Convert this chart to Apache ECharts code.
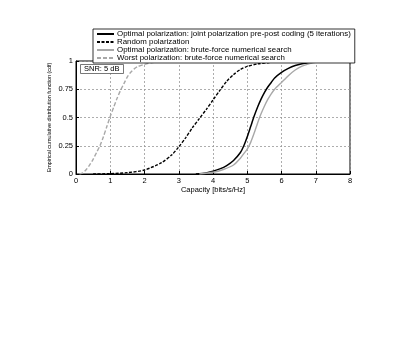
<!DOCTYPE html>
<html>
<head>
<meta charset="utf-8">
<script src="https://cdn.jsdelivr.net/npm/echarts@6/dist/echarts.min.js"></script>
<style>
  html, body { margin: 0; padding: 0; background: #fff; }
  #chart { width: 399px; height: 346px; }
</style>
</head>
<body>
<div id="chart"></div>
<script>
// curves: [capacity, cdf]
var jointOptimal = [[3.5, 0], [3.8, 0.01], [4.0, 0.025], [4.2, 0.045], [4.4, 0.075], [4.6, 0.12], [4.8, 0.19],
  [4.9, 0.25], [5.0, 0.33], [5.1, 0.42], [5.2, 0.51], [5.3, 0.59], [5.4, 0.66], [5.5, 0.72], [5.6, 0.77],
  [5.7, 0.81], [5.8, 0.85], [6.0, 0.9], [6.2, 0.935], [6.4, 0.96], [6.6, 0.975], [6.8, 0.985], [7.0, 0.992],
  [7.3, 0.997], [7.6, 1], [8, 1]]
var randomPol = [[0.5, 0], [1.0, 0.003], [1.5, 0.012], [2.0, 0.035], [2.5, 0.1], [2.8, 0.17], [3.0, 0.24], [3.2, 0.32],
  [3.4, 0.41], [3.6, 0.49], [3.8, 0.57], [4.0, 0.655], [4.2, 0.74], [4.4, 0.82], [4.6, 0.88], [4.8, 0.925],
  [5.0, 0.952], [5.3, 0.974], [5.6, 0.985], [6.0, 0.993], [6.5, 0.998], [7.0, 1], [8, 1]]
var bruteOptimal = [[3.6, 0], [4.0, 0.015], [4.3, 0.04], [4.6, 0.08], [4.8, 0.14], [4.9, 0.18], [5.0, 0.22],
  [5.1, 0.28], [5.2, 0.36], [5.3, 0.45], [5.4, 0.53], [5.5, 0.6], [5.6, 0.66], [5.7, 0.71], [5.8, 0.75],
  [6.0, 0.81], [6.2, 0.87], [6.4, 0.92], [6.6, 0.955], [6.8, 0.975], [7.0, 0.988], [7.3, 0.996], [7.6, 1], [8, 1]]
var worstPol = [[0.1, 0], [0.2, 0.01], [0.3, 0.04], [0.4, 0.08], [0.5, 0.13], [0.6, 0.19], [0.7, 0.25], [0.8, 0.33],
  [0.9, 0.42], [1.0, 0.51], [1.1, 0.59], [1.2, 0.67], [1.3, 0.74], [1.4, 0.8], [1.5, 0.86], [1.6, 0.9],
  [1.7, 0.93], [1.8, 0.95], [2.0, 0.97], [2.2, 0.985], [2.5, 0.995], [3.0, 1], [8, 1]]

var seriesNames = [
  'Optimal polarization: joint polarization pre-post coding (5 iterations)',
  'Random polarization',
  'Optimal polarization: brute-force numerical search',
  'Worst polarization: brute-force numerical search'
]
var xTicks = [0, 1, 2, 3, 4, 5, 6, 7, 8]
var yTicks = [0, 0.25, 0.5, 0.75, 1]

var font = 'Liberation Sans, Arial, sans-serif'

function lineSeries (name, data, color, type, width) {
  return {
    name: name,
    type: 'line',
    data: data,
    smooth: 0.25,
    symbol: 'none',
    lineStyle: { color: color, width: width, type: type },
    itemStyle: { color: color }
  }
}

var chart = echarts.init(document.getElementById('chart'))
chart.setOption({
  backgroundColor: '#fff',
  animation: false,
  textStyle: { fontFamily: font },
  title: {
    text: 'SNR: 5 dB',
    left: 80,
    top: 64,
    padding: [1, 4, 1, 4],
    borderColor: '#555',
    borderWidth: 0.8,
    backgroundColor: '#fff',
    textStyle: { fontSize: 7.5, fontWeight: 'normal', color: '#000', fontFamily: font }
  },
  legend: {
    orient: 'vertical',
    left: 93,
    top: 29,
    padding: [1, 4, 1, 3],
    itemGap: 0,
    itemWidth: 17,
    itemHeight: 7.3,
    backgroundColor: '#fff',
    borderColor: '#000',
    borderWidth: 0.8,
    itemStyle: { opacity: 0 },
    textStyle: { fontSize: 7.9, color: '#000', fontFamily: font, padding: [0, 0, 0, -2] },
    data: seriesNames
  },
  grid: {
    left: 76,
    right: 49,
    top: 61,
    bottom: 172,
    show: true,
    borderColor: '#000',
    borderWidth: 1,
    containLabel: false,
    outerBoundsMode: 'none'
  },
  xAxis: {
    type: 'value',
    min: xTicks[0],
    max: xTicks[xTicks.length - 1],
    interval: 1,
    name: 'Capacity [bits/s/Hz]',
    nameLocation: 'middle',
    nameGap: 11,
    nameTextStyle: { fontSize: 7.5, color: '#000' },
    axisLine: { lineStyle: { color: '#000', width: 1 } },
    axisTick: { inside: true, length: 3, lineStyle: { color: '#000' } },
    axisLabel: { fontSize: 7.5, color: '#000', margin: 3 },
    splitLine: { show: true, lineStyle: { color: '#999', type: [2, 2], width: 0.8 } }
  },
  yAxis: {
    type: 'value',
    min: yTicks[0],
    max: yTicks[yTicks.length - 1],
    interval: 0.25,
    name: 'Empirical cumulative distribution function (cdf)',
    nameLocation: 'middle',
    nameGap: 24,
    nameMoveOverlap: false,
    nameTextStyle: { fontSize: 5.4, color: '#000' },
    axisLine: { lineStyle: { color: '#000', width: 1 } },
    axisTick: { inside: true, length: 3, lineStyle: { color: '#000' } },
    axisLabel: { fontSize: 7.5, color: '#000', margin: 3 },
    splitLine: { show: true, lineStyle: { color: '#999', type: [2, 2], width: 0.8 } }
  },
  series: [
    lineSeries(seriesNames[0], jointOptimal, '#000', 'solid', 1.5),
    lineSeries(seriesNames[1], randomPol, '#000', [3, 1.5], 1.4),
    lineSeries(seriesNames[2], bruteOptimal, '#a8a8a8', 'solid', 1.4),
    lineSeries(seriesNames[3], worstPol, '#a8a8a8', [4, 2], 1.4)
  ]
})
</script>
</body>
</html>
